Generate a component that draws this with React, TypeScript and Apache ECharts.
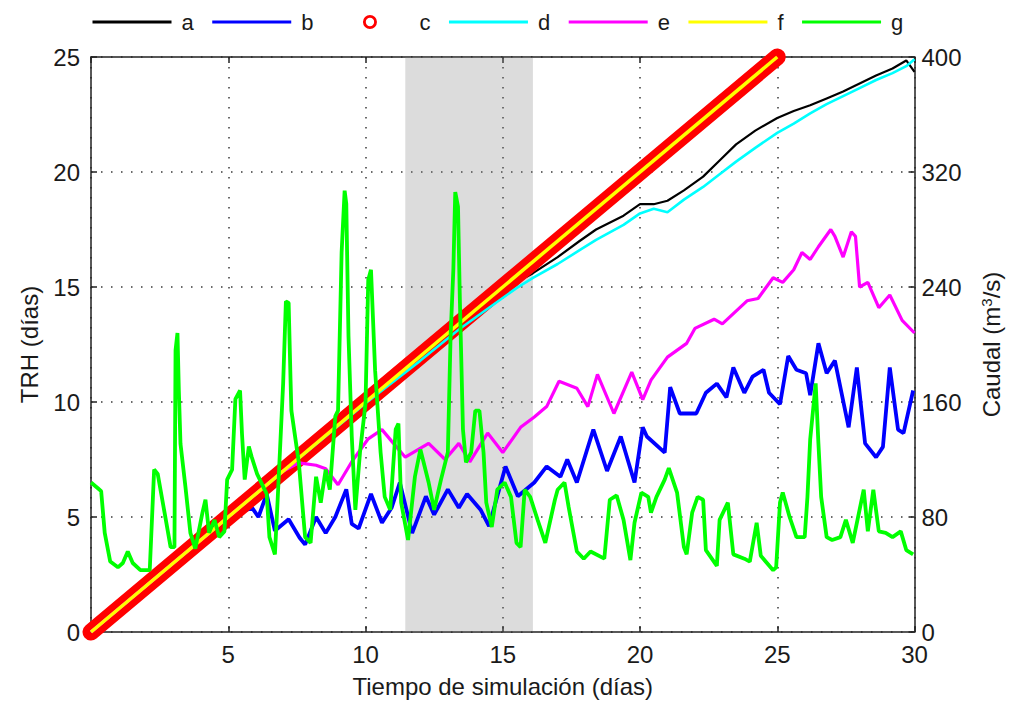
import React, { useEffect, useRef } from "react";
import * as echarts from "echarts";

// Time (days) and TRH (days) series
const A_X = [0, 5, 10, 12, 13.4, 14.5, 15.5, 16.1, 17.0, 17.8, 18.4, 19.4, 20.0, 20.5, 21.0, 21.6, 22.3, 22.9, 23.5, 24.2, 25.0, 25.6, 26.2, 26.8, 27.4, 28.0, 28.6, 29.2, 29.7, 29.85, 30];
const A_Y = [0, 5, 10, 11.95, 13.3, 14.35, 15.2, 15.6, 16.3, 17.0, 17.5, 18.1, 18.6, 18.6, 18.75, 19.2, 19.8, 20.5, 21.2, 21.8, 22.35, 22.65, 22.9, 23.2, 23.5, 23.85, 24.2, 24.5, 24.85, 24.6, 24.35];

const B_X = [0, 5, 5.87, 6.1, 6.4, 6.7, 7.2, 7.6, 7.8, 8.2, 8.55, 8.9, 9.3, 9.5, 9.75, 10.2, 10.6, 10.95, 11.25, 11.7, 12.2, 12.5, 13.0, 13.4, 13.7, 14.2, 14.5, 15.1, 15.55, 16.15, 16.6, 17.1, 17.35, 17.7, 18.3, 18.8, 19.3, 19.8, 20.1, 20.25, 20.9, 21.1, 21.45, 22.05, 22.4, 22.8, 23.15, 23.4, 23.8, 24.1, 24.5, 24.7, 25.1, 25.4, 25.7, 26.05, 26.2, 26.5, 26.8, 27.1, 27.6, 27.9, 28.2, 28.6, 28.85, 29.1, 29.4, 29.6, 29.95];
const B_Y = [0, 5, 5.4, 5.0, 6.0, 4.4, 4.9, 4.1, 3.8, 5.0, 4.3, 5.0, 6.2, 4.7, 4.5, 6.0, 4.75, 5.4, 6.5, 4.3, 5.9, 5.1, 6.2, 5.4, 6.0, 5.3, 4.6, 7.2, 5.9, 6.5, 7.2, 6.75, 7.5, 6.5, 8.8, 7.0, 8.5, 6.5, 8.9, 8.5, 7.8, 10.65, 9.5, 9.5, 10.4, 10.8, 10.2, 11.5, 10.4, 11.1, 11.4, 10.4, 9.9, 12.0, 11.4, 11.25, 10.3, 12.55, 11.25, 11.8, 8.9, 11.5, 8.2, 7.6, 8.05, 11.5, 8.8, 8.65, 10.5];

const C_X = [0, 25];
const C_Y = [0, 25];

const D_X = [0, 5, 10, 12, 13.4, 14.5, 15.5, 16.1, 17.0, 17.8, 18.4, 19.4, 20.0, 20.5, 21.0, 21.6, 22.3, 22.9, 23.5, 24.2, 25.0, 25.6, 26.2, 26.8, 27.4, 28.0, 28.6, 29.2, 29.7, 30];
const D_Y = [0, 5, 9.95, 11.8, 13.15, 14.1, 14.95, 15.4, 16.0, 16.6, 17.05, 17.7, 18.2, 18.4, 18.25, 18.8, 19.35, 19.9, 20.45, 21.05, 21.7, 22.1, 22.55, 22.95, 23.3, 23.65, 24.0, 24.3, 24.6, 24.9];

const E_X = [0, 5, 7.0, 7.57, 8.2, 8.55, 9.0, 9.5, 10.1, 10.6, 10.95, 11.45, 12.3, 12.9, 13.4, 13.8, 14.45, 15.0, 15.65, 16.15, 16.6, 17.05, 17.7, 18.1, 18.45, 19.05, 19.7, 20.1, 20.4, 21.0, 21.7, 22.0, 22.7, 23.0, 23.9, 24.3, 24.85, 25.2, 25.6, 25.9, 26.2, 26.5, 26.95, 27.1, 27.4, 27.7, 27.85, 28.0, 28.3, 28.7, 29.1, 29.55, 30];
const E_Y = [0, 5, 7.0, 7.35, 7.25, 7.1, 6.4, 7.4, 8.4, 8.8, 8.3, 7.6, 8.2, 7.5, 8.2, 7.4, 8.65, 7.8, 8.9, 9.35, 9.8, 10.9, 10.6, 9.8, 11.2, 9.5, 11.3, 10.1, 10.95, 11.95, 12.55, 13.2, 13.6, 13.4, 14.4, 14.5, 15.4, 15.2, 15.75, 16.5, 16.2, 16.75, 17.5, 17.2, 16.3, 17.4, 17.2, 15.0, 15.2, 14.1, 14.65, 13.55, 13.0];

const F_X = [0, 25];
const F_Y = [0, 25];

// Caudal (m3/s)
const G_X = [0, 0.25, 0.37, 0.5, 0.7, 0.98, 1.16, 1.34, 1.52, 1.8, 2.14, 2.25, 2.3, 2.43, 2.68, 2.9, 3.04, 3.08, 3.15, 3.2, 3.26, 3.44, 3.62, 3.8, 4.06, 4.17, 4.3, 4.5, 4.67, 4.86, 4.96, 5.14, 5.26, 5.43, 5.5, 5.6, 5.75, 5.85, 6.05, 6.4, 6.5, 6.7, 6.8, 7.0, 7.1, 7.2, 7.27, 7.3, 7.57, 7.8, 8.0, 8.2, 8.37, 8.55, 8.7, 8.9, 9.0, 9.13, 9.24, 9.3, 9.38, 9.5, 9.63, 9.8, 10.0, 10.1, 10.2, 10.35, 10.55, 10.7, 10.9, 11.1, 11.2, 11.3, 11.55, 11.8, 12.0, 12.3, 12.5, 12.75, 13.0, 13.1, 13.2, 13.27, 13.37, 13.44, 13.55, 13.66, 13.85, 14.0, 14.15, 14.3, 14.4, 14.6, 14.8, 15.07, 15.3, 15.5, 15.65, 15.8, 16.0, 16.27, 16.55, 16.9, 17.0, 17.25, 17.4, 17.7, 17.95, 18.2, 18.7, 18.9, 19.15, 19.4, 19.65, 19.8, 20.05, 20.3, 20.4, 20.6, 20.9, 21.05, 21.35, 21.6, 21.7, 21.9, 22.1, 22.3, 22.4, 22.8, 22.9, 23.2, 23.4, 23.8, 24.0, 24.25, 24.4, 24.85, 24.96, 25.1, 25.2, 25.45, 25.7, 26.0, 26.1, 26.2, 26.4, 26.5, 26.6, 26.8, 27.0, 27.3, 27.5, 27.75, 28.15, 28.3, 28.5, 28.7, 28.95, 29.2, 29.5, 29.7, 29.95];
const G_Y = [104, 100, 98, 69, 49, 45, 48, 56, 48, 43, 43, 91, 113, 110, 83, 59, 59, 196, 208, 168, 131, 101, 69, 58, 83, 92, 69, 78, 66, 70, 106, 113, 162, 168, 138, 106, 129, 122, 110, 96, 66, 54, 92, 173, 230, 229, 175, 154, 118, 66, 62, 108, 90, 113, 99, 150, 154, 264, 307, 298, 206, 136, 85, 125, 159, 245, 252, 182, 125, 94, 85, 141, 145, 90, 64, 108, 127, 104, 85, 106, 125, 206, 252, 306, 296, 229, 141, 118, 125, 154, 154, 125, 90, 73, 99, 104, 94, 62, 59, 99, 94, 78, 62, 92, 99, 104, 87, 56, 51, 56, 51, 92, 95, 78, 50, 76, 97, 94, 83, 94, 106, 114, 97, 59, 54, 83, 94, 92, 57, 46, 78, 90, 54, 51, 49, 76, 53, 43, 45, 90, 97, 80, 66, 66, 94, 134, 173, 131, 94, 66, 64, 66, 78, 62, 99, 70, 99, 70, 69, 66, 70, 57, 54];

// Shaded period (days)
const BAND = [11.45, 16.1];

const X_TICKS = { min: 0, max: 30, interval: 5 };
const Y_LEFT = { min: 0, max: 25, interval: 5 };
const Y_RIGHT = { min: 0, max: 400, interval: 80 };

const LEGEND = ["a", "b", "c", "d", "e", "f", "g"];

const zip = (xs: number[], ys: number[]) => xs.map((x, i) => [x, ys[i]]);

const FONT = "Liberation Sans, Arial, sans-serif";
const TXT = "#1a1a1a";

// open-circle marker centred in a 79x14 legend slot (tiny corner squares fix the box)
const RING_ICON =
  "path://M0,0h0.01v0.01h-0.01z M79,14h-0.01v-0.01h0.01z " +
  "M32.5,7a7,7 0 1,0 14,0a7,7 0 1,0 -14,0z M35.3,7a4.2,4.2 0 1,1 8.4,0a4.2,4.2 0 1,1 -8.4,0z";

export default function App() {
  const ref = useRef<HTMLDivElement>(null);
  useEffect(() => {
    if (!ref.current) return;
    const chart = echarts.init(ref.current, undefined, { renderer: "svg" });
    const dotted = { color: "#3a3a3a", width: 1.5, type: [1.5, 8.5] as any };
    const axLine = { show: true, onZero: false, lineStyle: { color: "#222", width: 1.5 } };
    const tick = { show: true, inside: true, length: 6, lineStyle: { color: "#222", width: 1.5 } };
    const lbl = { fontSize: 24, fontFamily: FONT, color: TXT };
    const line = (name: string, xs: number[], ys: number[], color: string, width: number, extra: any = {}) => ({
      name,
      type: "line",
      data: zip(xs, ys),
      symbol: "none",
      showSymbol: false,
      lineStyle: { color, width },
      itemStyle: { color },
      ...extra,
    });
    chart.setOption({
      animation: false,
      backgroundColor: "#fff",
      grid: { left: 91, right: 93, top: 57, bottom: 72, containLabel: false },
      legend: {
        top: 6,
        left: 86,
        itemWidth: 79,
        itemHeight: 14,
        itemGap: 17,
        textStyle: { fontSize: 22, fontFamily: FONT, color: TXT, padding: [0, 0, 0, 5] },
        lineStyle: { width: 3 },
        itemStyle: { opacity: 0 },
        data: LEGEND.map((n) =>
          n === "c"
            ? { name: n, icon: RING_ICON, itemStyle: { color: "#ff0000", opacity: 1, borderWidth: 0 } }
            : { name: n }
        ),
      },
      xAxis: [
        {
          type: "value",
          ...X_TICKS,
          position: "bottom",
          axisLine: axLine,
          axisTick: tick,
          axisLabel: { ...lbl, margin: 10, showMinLabel: false },
          splitLine: { show: true, lineStyle: dotted },
          name: "Tiempo de simulación (días)",
          nameLocation: "middle",
          nameGap: 42,
          nameTextStyle: lbl,
        },
        {
          type: "value",
          ...X_TICKS,
          position: "top",
          axisLine: axLine,
          axisTick: tick,
          axisLabel: { show: false },
          splitLine: { show: false },
        },
      ],
      yAxis: [
        {
          type: "value",
          ...Y_LEFT,
          position: "left",
          axisLine: axLine,
          axisTick: tick,
          axisLabel: { ...lbl, margin: 11 },
          splitLine: { show: true, lineStyle: dotted },
          name: "TRH (días)",
          nameLocation: "middle",
          nameGap: 50,
          nameTextStyle: lbl,
        },
        {
          type: "value",
          ...Y_RIGHT,
          position: "right",
          axisLine: axLine,
          axisTick: tick,
          axisLabel: { ...lbl, margin: 7 },
          splitLine: { show: false },
          name: "{t|Caudal (m}{s|3}{t|/s)}",
          nameLocation: "middle",
          nameGap: 64,
          nameTextStyle: {
            ...lbl,
            rich: {
              t: { fontSize: 24, fontFamily: FONT, color: TXT },
              s: { fontSize: 15, fontFamily: FONT, color: TXT, verticalAlign: "top", padding: [0, 0, 10, 0] },
            },
          },
        },
      ],
      series: [
        line("a", A_X, A_Y, "#000000", 2.2),
        line("b", B_X, B_Y, "#0000ff", 3.8),
        line("c", C_X, C_Y, "#ff0000", 17, { clip: false, lineStyle: { color: "#ff0000", width: 17, cap: "round" } }),
        line("d", D_X, D_Y, "#00ffff", 2.6),
        line("e", E_X, E_Y, "#ff00ff", 3.2),
        line("f", F_X, F_Y, "#ffff00", 3.5, { clip: false }),
        line("g", G_X, G_Y, "#00ff00", 3.8, { yAxisIndex: 1 }),
        {
          name: "periodo",
          type: "line",
          data: [],
          silent: true,
          z: 20,
          markArea: {
            silent: true,
            itemStyle: { color: "rgba(124,124,124,0.27)" },
            data: [[{ xAxis: BAND[0] }, { xAxis: BAND[1] }]],
          },
        },
      ],
    });
    return () => chart.dispose();
  }, []);
  return (
    <div
      ref={ref}
      style={{ position: "fixed", left: 0, top: 0, width: 1011, height: 704, background: "#fff" }}
    />
  );
}
